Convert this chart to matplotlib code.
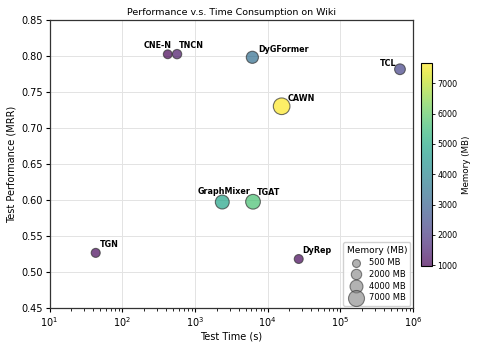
import numpy as np
import matplotlib
matplotlib.use("Agg")
import matplotlib.pyplot as plt
from matplotlib.colors import Normalize

models = ["CNE-N", "TNCN", "DyGFormer", "TCL", "CAWN", "GraphMixer", "TGAT", "TGN", "DyRep"]
test_time = [423, 568, 6170, 662000, 15600, 2380, 6300, 43.2, 26800]
test_mrr = [0.8028, 0.8030, 0.7986, 0.7820, 0.7306, 0.5976, 0.5980, 0.5270, 0.5185]
memory_mb = [970, 1300, 3320, 2250, 7680, 4860, 5670, 1100, 1050]
legend_mem = [500, 2000, 4000, 7000]

# label placement (offset pixels, alignment) - styling only
label_style = {
    "CNE-N": (4, 6, "right"),
    "TNCN": (2.3, 6, "left"),
    "DyGFormer": (6, 5, "left"),
    "TCL": (-3.3, 3.3, "right"),
    "CAWN": (6.3, 5.3, "left"),
    "GraphMixer": (1.7, 8, "center"),
    "TGAT": (4, 6.3, "left"),
    "TGN": (4.3, 6, "left"),
    "DyRep": (4, 6, "left"),
}

def msize(m):
    return 25 + 0.0154 * np.asarray(m, dtype=float)

fig = plt.figure(figsize=(4.78, 3.48), dpi=100)
ax = fig.add_axes([0.1036, 0.114, 0.7604, 0.8277])
cax = fig.add_axes([0.8808, 0.2356, 0.0224, 0.584])

norm = Normalize(vmin=min(memory_mb), vmax=max(memory_mb))
sc = ax.scatter(test_time, test_mrr, s=msize(memory_mb), c=memory_mb, cmap="viridis",
                norm=norm, alpha=0.7, edgecolors="#333333", linewidths=0.8, zorder=3)

for name, x, y in zip(models, test_time, test_mrr):
    dx, dy, ha = label_style[name]
    ax.annotate(name, (x, y), xytext=(dx, dy), textcoords="offset pixels",
                ha=ha, va="baseline", fontsize=5.8, fontweight="bold", zorder=4)

ax.set_xscale("log")
ax.set_xlim(10, 1e6)
ax.set_ylim(0.45, 0.85)
ax.set_yticks(np.arange(0.45, 0.851, 0.05))
ax.set_yticklabels([f"{v:.2f}" for v in np.arange(0.45, 0.851, 0.05)])
ax.tick_params(axis="both", which="major", labelsize=7, length=3, width=0.8, pad=2)
ax.tick_params(axis="x", which="minor", length=1.8, width=0.6)
ax.grid(True, which="major", color="#e3e3e3", linewidth=0.7)
ax.set_axisbelow(True)
for sp in ax.spines.values():
    sp.set_color("#333333")
    sp.set_linewidth(0.9)

ax.set_xlabel("Test Time (s)", fontsize=7, labelpad=2)
ax.set_ylabel("Test Performance (MRR)", fontsize=7, labelpad=3)
ax.set_title("Performance v.s. Time Consumption on Wiki", fontsize=6.8, pad=4)

cb = fig.colorbar(sc, cax=cax)
cb.set_label("Memory (MB)", fontsize=6.3, labelpad=3)
cb.set_ticks([1000, 2000, 3000, 4000, 5000, 6000, 7000])
cb.ax.tick_params(labelsize=5.8, length=2.5, width=0.6, pad=1.5)
cb.outline.set_linewidth(0.8)

handles = [ax.scatter([], [], s=msize(m), c="gray", alpha=0.6, edgecolors="#333333",
                      linewidths=0.8) for m in legend_mem]
leg = ax.legend(handles, [f"{m} MB" for m in legend_mem], title="Memory (MB)",
                loc="lower right", fontsize=6, title_fontsize=6.5, frameon=True,
                borderaxespad=0.3, labelspacing=0.35, handletextpad=0.6,
                borderpad=0.4, framealpha=0.9)

fig.savefig("out.png", dpi=100)
